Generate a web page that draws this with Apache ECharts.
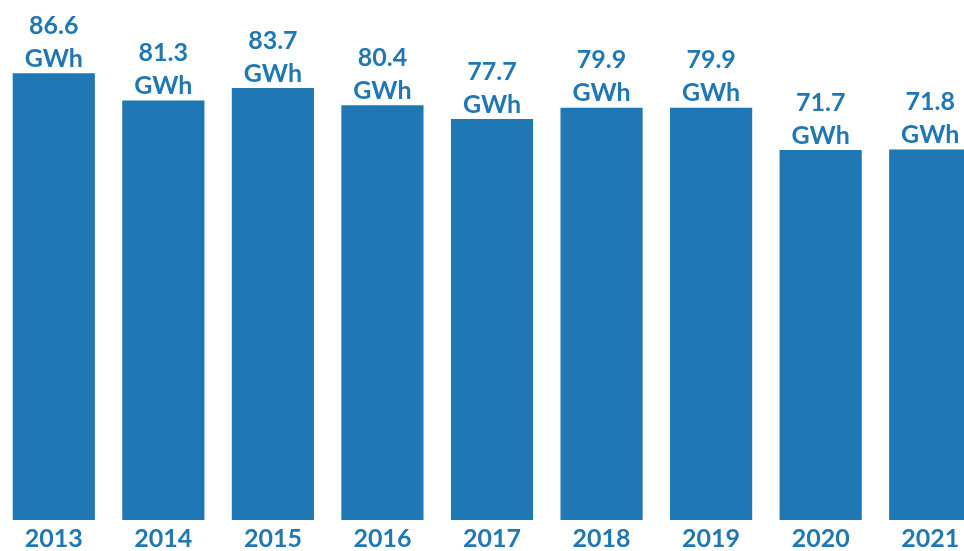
<!DOCTYPE html>
<html>
<head>
<meta charset="utf-8">
<script src="https://cdn.jsdelivr.net/npm/echarts@6/dist/echarts.min.js"></script>
<style>
  html, body { margin: 0; padding: 0; background: #fff; }
  #chart { width: 964px; height: 551px; }
</style>
</head>
<body>
<div id="chart"></div>
<script>
// 年份与用电量 (GWh)
var years = ['2013', '2014', '2015', '2016', '2017', '2018', '2019', '2020', '2021'];
var energy = [86.6, 81.3, 83.7, 80.4, 77.7, 79.9, 79.9, 71.7, 71.8];
var unit = 'GWh';

var blue = '#1f77b4';
var chart = echarts.init(document.getElementById('chart'));

var option = {
  animation: false,
  grid: {
    left: -1,
    top: 4,
    width: 986,
    height: 516,
    outerBoundsMode: 'none'
  },
  xAxis: {
    type: 'category',
    data: years,
    axisLine: { show: false },
    axisTick: { show: false },
    axisLabel: {
      color: blue,
      fontFamily: 'Lato',
      fontWeight: 'bold',
      fontSize: 25,
      margin: 6
    }
  },
  yAxis: {
    type: 'value',
    min: 0,
    max: 100,
    show: false,
    splitLine: { show: false }
  },
  series: [{
    type: 'bar',
    data: energy,
    barCategoryGap: '25%',
    itemStyle: { color: blue },
    label: {
      show: true,
      position: 'top',
      distance: -2,
      color: blue,
      fontFamily: 'Lato',
      fontWeight: 'bold',
      fontSize: 25,
      lineHeight: 33,
      formatter: function (p) {
        return p.value.toFixed(1) + '\n' + unit;
      }
    }
  }]
};

chart.setOption(option);
</script>
</body>
</html>
